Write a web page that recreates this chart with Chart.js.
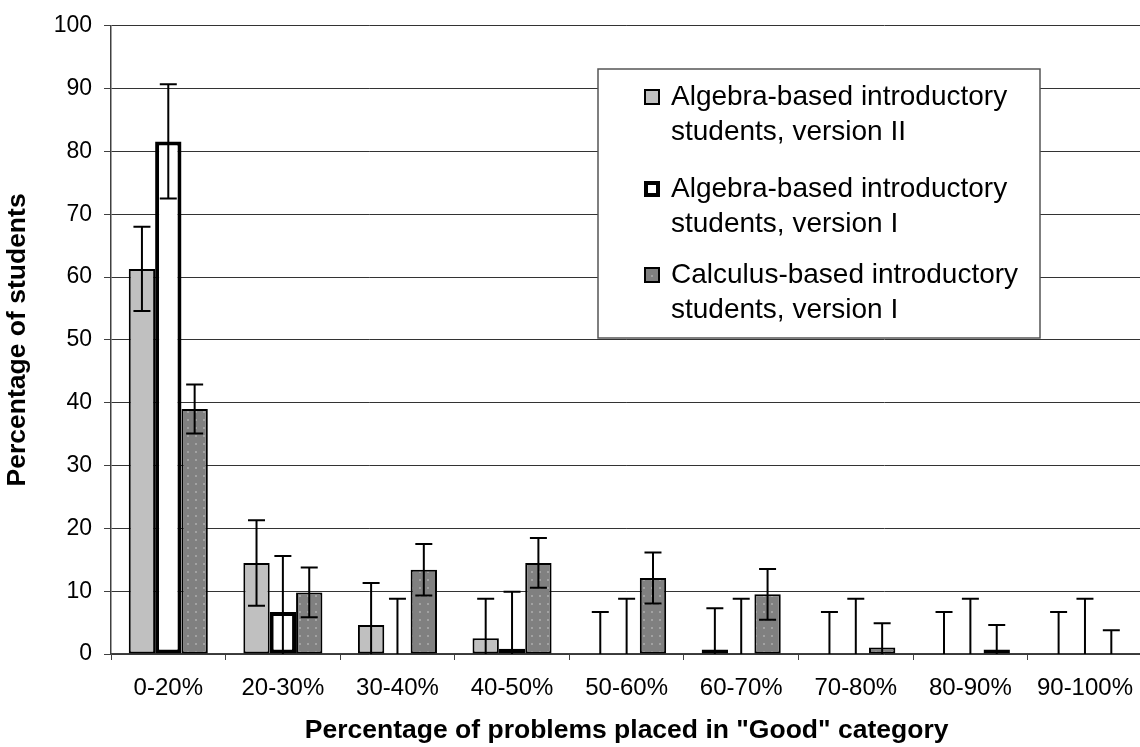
<!DOCTYPE html>
<html>
<head>
<meta charset="utf-8">
<script src="https://cdn.jsdelivr.net/npm/chart.js@4"></script>
<style>
  body { margin: 0; background: #fff; overflow: hidden; }
  #wrap { width: 1147px; height: 747px; position: relative; }
</style>
</head>
<body>
<div id="wrap"><canvas id="good_chart"></canvas></div>
<script>
var categories = ['0-20%', '20-30%', '30-40%', '40-50%', '50-60%', '60-70%', '70-80%', '80-90%', '90-100%']

var algebra_v2 = [61.3, 14.5, 4.6, 2.5, 0, 0.7, 0, 0, 0]
var algebra_v2_err = [6.7, 6.8, 6.7, 6.3, 6.7, 6.6, 6.7, 6.7, 6.7]

var algebra_v1 = [81.6, 6.7, 0, 0.85, 0, 0, 0, 0, 0]
var algebra_v1_err = [9.1, 8.9, 8.8, 9.05, 8.8, 8.8, 8.8, 8.8, 8.8]

var calculus_v1 = [39.0, 9.8, 13.4, 14.5, 12.1, 9.5, 1.05, 0.7, 0]
var calculus_v1_err = [3.9, 3.95, 4.1, 3.95, 4.05, 4.05, 3.85, 3.9, 3.8]

var series_labels = [
  ['Algebra-based introductory', 'students, version II'],
  ['Algebra-based introductory', 'students, version I'],
  ['Calculus-based introductory', 'students, version I']
]

var y_ticks = [0, 10, 20, 30, 40, 50, 60, 70, 80, 90, 100]

// dotted grey fill like the excel pattern
make_dots = function(){
  var c = document.createElement('canvas')
  c.width = 8
  c.height = 8
  var p = c.getContext('2d')
  p.fillStyle = '#808080'
  p.fillRect(0, 0, 8, 8)
  p.fillStyle = '#b8b8b8'
  p.fillRect(3, 3, 2, 2)
  p.fillStyle = '#606060'
  p.fillRect(3.5, 3.5, 1, 1)
  return p.createPattern(c, 'repeat')
}
var dots = make_dots()

var errorBars = {
  id: 'errorBars',
  afterDatasetsDraw: function(chart){
    var ctx = chart.ctx
    var y = chart.scales.y
    var a = chart.chartArea
    ctx.save()
    ctx.beginPath()
    ctx.rect(a.left, a.top, a.right - a.left, a.bottom - a.top + 1)
    ctx.clip()
    ctx.strokeStyle = '#000'
    ctx.lineWidth = 2
    chart.data.datasets.forEach(function(ds, i){
      var meta = chart.getDatasetMeta(i)
      meta.data.forEach(function(bar, j){
        var v = ds.data[j]
        var e = ds.errors[j]
        var top = y.getPixelForValue(v + e)
        var bot = y.getPixelForValue(Math.max(v - e, 0))
        ctx.beginPath()
        ctx.moveTo(bar.x, top)
        ctx.lineTo(bar.x, bot)
        ctx.moveTo(bar.x - 8.5, top)
        ctx.lineTo(bar.x + 8.5, top)
        if (v - e >= 0) {
          ctx.moveTo(bar.x - 8.5, bot)
          ctx.lineTo(bar.x + 8.5, bot)
        }
        ctx.stroke()
      })
    })
    ctx.restore()
  }
}

var boxLegend = {
  id: 'boxLegend',
  afterDraw: function(chart){
    var ctx = chart.ctx
    ctx.save()
    ctx.fillStyle = '#fff'
    ctx.fillRect(598, 69, 442, 269)
    ctx.strokeStyle = '#555'
    ctx.lineWidth = 1.5
    ctx.strokeRect(598, 69, 442, 269)
    var base = [105, 197, 283]
    ctx.font = '28px "Liberation Sans", Arial, sans-serif'
    ctx.textBaseline = 'alphabetic'
    chart.data.datasets.forEach(function(ds, i){
      var b = base[i]
      var bw = ds.borderWidth
      ctx.fillStyle = ds.backgroundColor
      ctx.fillRect(644, b - 16, 16, 16)
      ctx.strokeStyle = '#000'
      ctx.lineWidth = bw
      ctx.strokeRect(644 + bw / 2, b - 16 + bw / 2, 16 - bw, 16 - bw)
      ctx.fillStyle = '#000'
      series_labels[i].forEach(function(line, k){
        ctx.fillText(line, 671, b + k * 35)
      })
    })
    ctx.restore()
  }
}

Chart.defaults.font.family = '"Liberation Sans", Arial, sans-serif'
Chart.defaults.color = '#000'

var ctx = document.getElementById('good_chart').getContext('2d')
window.chart = new Chart(ctx, {
  type: 'bar',
  data: {
    labels: categories,
    datasets: [{
      label: series_labels[0].join(' '),
      data: algebra_v2,
      errors: algebra_v2_err,
      backgroundColor: '#c0c0c0',
      borderColor: '#000',
      borderWidth: 2,
      borderSkipped: false
    }, {
      label: series_labels[1].join(' '),
      data: algebra_v1,
      errors: algebra_v1_err,
      backgroundColor: '#ffffff',
      borderColor: '#000',
      borderWidth: 4,
      borderSkipped: false
    }, {
      label: series_labels[2].join(' '),
      data: calculus_v1,
      errors: calculus_v1_err,
      backgroundColor: dots,
      borderColor: '#000',
      borderWidth: 2,
      borderSkipped: false
    }]
  },
  options: {
    responsive: true,
    maintainAspectRatio: false,
    animation: false,
    events: [],
    layout: { padding: { top: 24, right: 0, left: 0, bottom: 0 } },
    plugins: {
      legend: { display: false },
      tooltip: { enabled: false }
    },
    datasets: {
      bar: { categoryPercentage: 0.69, barPercentage: 1 }
    },
    scales: {
      x: {
        grid: { drawOnChartArea: false, tickLength: 6, tickColor: '#404040', offset: true },
        border: { color: '#404040', width: 1.5 },
        ticks: { font: { size: 24 }, padding: 14, maxRotation: 0 },
        title: {
          display: true,
          text: 'Percentage of problems placed in "Good" category',
          font: { size: 26.5, weight: 'bold' },
          padding: { top: 13, bottom: 0 }
        },
        afterFit: function(s){ s.height = 93 }
      },
      y: {
        min: 0,
        max: 100,
        afterBuildTicks: function(s){ s.ticks = y_ticks.map(function(v){ return { value: v } }) },
        grid: { color: '#333', lineWidth: 1, tickLength: 7, tickColor: '#404040' },
        border: { color: '#404040', width: 1.5 },
        ticks: { font: { size: 23 }, padding: 12 },
        title: {
          display: true,
          text: 'Percentage of students',
          font: { size: 26.5, weight: 'bold' },
          padding: { top: 2, bottom: 0 }
        },
        afterFit: function(s){ s.width = 111 }
      }
    }
  },
  plugins: [errorBars, boxLegend]
})
</script>
</body>
</html>
